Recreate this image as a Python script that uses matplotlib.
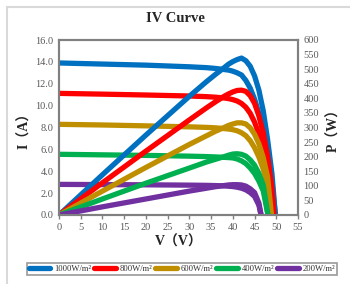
import matplotlib
matplotlib.use("Agg")
import matplotlib.pyplot as plt
from matplotlib.patches import Rectangle

labels = ["1000W/m²", "800W/m²", "600W/m²", "400W/m²", "200W/m²"]
colors = ["#0070C0", "#FF0000", "#BF8F00", "#00B050", "#7030A0"]

v_1000 = [0, 10, 20, 30, 34, 36, 38, 39, 40, 41, 42, 43, 44, 45, 46, 47, 48, 49, 49.8]
i_1000 = [13.9, 13.8, 13.7, 13.55, 13.47, 13.4, 13.3, 13.25, 13.15, 13.0, 12.8, 12.3, 11.6, 10.6, 9.3, 7.6, 5.4, 2.9, 0]
p_1000 = [0, 138, 274, 407, 458, 482, 505, 517, 526, 533, 538, 529, 510, 477, 428, 357, 259, 142, 0]

v_800 = [0, 10, 20, 30, 34, 36, 38, 39, 40, 41, 42, 43, 44, 45, 46, 47, 48, 49, 49.5]
i_800 = [11.12, 11.05, 10.97, 10.88, 10.82, 10.77, 10.7, 10.64, 10.55, 10.42, 10.2, 9.85, 9.3, 8.5, 7.4, 6.0, 4.2, 1.9, 0]
p_800 = [0, 110.5, 219, 326, 368, 388, 407, 415, 422, 427, 428, 424, 409, 383, 340, 282, 202, 93, 0]

v_600 = [0, 10, 20, 30, 34, 36, 38, 39, 40, 41, 42, 43, 44, 45, 46, 47, 48, 48.9]
i_600 = [8.29, 8.23, 8.15, 8.06, 8.01, 7.97, 7.9, 7.86, 7.8, 7.7, 7.52, 7.25, 6.8, 6.15, 5.3, 4.2, 2.7, 0]
p_600 = [0, 82, 163, 242, 272, 287, 300, 307, 312, 316, 316, 312, 299, 277, 244, 197, 130, 0]

v_400 = [0, 10, 20, 30, 34, 36, 38, 39, 40, 41, 42, 43, 44, 45, 46, 47, 48.1]
i_400 = [5.55, 5.5, 5.45, 5.38, 5.34, 5.31, 5.27, 5.25, 5.22, 5.12, 4.95, 4.7, 4.3, 3.8, 3.1, 2.2, 0]
p_400 = [0, 55, 109, 161, 182, 191, 200, 205, 209, 210, 208, 202, 189, 171, 143, 103, 0]

v_200 = [0, 10, 20, 30, 34, 36, 38, 39, 40, 41, 42, 43, 44, 45, 46, 46.5]
i_200 = [2.8, 2.78, 2.76, 2.73, 2.71, 2.69, 2.66, 2.63, 2.6, 2.54, 2.45, 2.3, 2.05, 1.7, 0.9, 0]
p_200 = [0, 28, 55, 82, 92, 97, 101, 103, 104, 104, 103, 99, 90, 77, 41, 0]

volts = [v_1000, v_800, v_600, v_400, v_200]
currents = [i_1000, i_800, i_600, i_400, i_200]
powers = [p_1000, p_800, p_600, p_400, p_200]

x_ticks = list(range(0, 56, 5))
i_ticks = [0, 2, 4, 6, 8, 10, 12, 14, 16]
p_ticks = list(range(0, 601, 50))

serif = ["Liberation Serif", "Noto Sans CJK SC"]
plt.rcParams["font.family"] = serif

fig = plt.figure(figsize=(3.5, 2.84), dpi=100)
fig.patches.append(Rectangle((7 / 350, -0.1), 1.2, 1 - 7 / 284 + 0.1,
                             transform=fig.transFigure, fill=False,
                             edgecolor="#d9d9d9", linewidth=1.5))

ax = fig.add_axes([59 / 350, 1 - 215 / 284, 239 / 350, 175 / 284])
ax2 = ax.twinx()

lw = 3.8
handles = []
for v, i, c, lab in zip(volts, currents, colors, labels):
    h, = ax.plot(v, i, color=c, lw=lw, solid_capstyle="round",
                 solid_joinstyle="round", label=lab)
    handles.append(h)
for v, p, c in zip(volts, powers, colors):
    ax2.plot(v, p, color=c, lw=lw, solid_capstyle="round",
             solid_joinstyle="round")

ax.set_xlim(0, 55)
ax.set_ylim(0, 16)
ax2.set_ylim(0, 600)
ax.set_xticks(x_ticks)
ax.set_yticks(i_ticks)
ax.set_yticklabels([f"{t:.1f}" for t in i_ticks])
ax2.set_yticks(p_ticks)

for a in (ax, ax2):
    for s in a.spines.values():
        s.set_color("#808080")
        s.set_linewidth(1.5)

ax.tick_params(axis="x", direction="out", length=3, width=1, color="#808080",
               labelsize=7.5, labelcolor="#595959", pad=3)
ax.tick_params(axis="y", length=0, labelsize=7.5, labelcolor="#595959", pad=4)
ax2.tick_params(axis="y", length=0, labelsize=7.5, labelcolor="#595959", pad=4)

ax.set_xlabel("V（V）", fontsize=10, fontweight="bold", color="#262626", labelpad=2)
ax.set_ylabel("I（A）", fontsize=10, fontweight="bold", color="#262626", labelpad=3)
ax2.set_ylabel("P（W）", fontsize=10, fontweight="bold", color="#262626", labelpad=6)

fig.text(175 / 350, 1 - 18 / 284, "IV Curve", ha="center", va="center",
         fontsize=10.5, fontweight="bold", color="#262626")

leg = fig.legend(handles=handles, loc="center", bbox_to_anchor=(182 / 350, 1 - 269 / 284),
                 ncol=5, fontsize=6.2, frameon=True, fancybox=False,
                 handlelength=2.5, handletextpad=0.45, columnspacing=0.35,
                 borderpad=0.2, borderaxespad=0)
leg.get_frame().set_edgecolor("#808080")
leg.get_frame().set_linewidth(1.2)
for t in leg.get_texts():
    t.set_color("#333333")

fig.savefig("out.png", dpi=100)
